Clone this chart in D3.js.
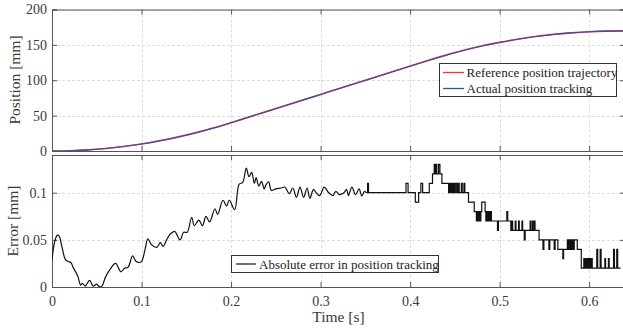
<!DOCTYPE html>
<html>
<head>
<meta charset="utf-8">
<script src="https://cdn.jsdelivr.net/npm/d3@7"></script>
<style>
  body { margin: 0; background: #fff; }
  svg { display: block; font-family: "Liberation Serif", "Times New Roman", serif; }
  svg text { font-family: "Liberation Serif", "Times New Roman", serif; }
</style>
</head>
<body>
<svg id="chart" width="623" height="328"></svg>
<script>
// position trajectory (mm), sampled every 0.02 s
const posTime = [0, 0.02, 0.04, 0.06, 0.08, 0.10, 0.12, 0.14, 0.16, 0.18, 0.20, 0.22, 0.24, 0.26, 0.28, 0.30,
  0.32, 0.34, 0.36, 0.38, 0.40, 0.42, 0.44, 0.46, 0.48, 0.50, 0.52, 0.54, 0.56, 0.58, 0.60, 0.62, 0.64];
const refPosition = [0, 0.4, 1.6, 3.6, 6.4, 10, 14.4, 19.6, 25.6, 32.4, 40, 48, 56, 64, 72, 80,
  88, 96, 104, 112, 120, 128, 135.5, 142.5, 148.5, 153.5, 158, 161.8, 164.8, 167, 168.6, 169.5, 169.8];
const actPosition = [0, 0.37, 1.58, 3.57, 6.37, 9.96, 14.36, 19.55, 25.54, 32.33, 39.91, 47.89, 55.9, 63.9, 71.9, 79.9,
  87.9, 95.9, 103.9, 111.9, 119.9, 127.88, 135.38, 142.41, 148.42, 153.44, 157.93, 161.74, 164.75, 166.96, 168.58, 169.48, 169.78];

// absolute error (mm): smooth part
const smoothTime = [0, 0.003, 0.006, 0.008, 0.011, 0.015, 0.018, 0.021, 0.024, 0.027, 0.029, 0.032, 0.034, 0.037,
  0.042, 0.046, 0.050, 0.052, 0.055, 0.060, 0.065, 0.071, 0.077, 0.081, 0.085, 0.090, 0.094, 0.097, 0.100,
  0.104, 0.107, 0.111, 0.117, 0.121, 0.124, 0.128, 0.132, 0.137, 0.143, 0.147, 0.151, 0.156, 0.159, 0.164,
  0.168, 0.172, 0.176, 0.182, 0.185, 0.191, 0.195, 0.198, 0.204, 0.209, 0.213, 0.217, 0.220, 0.223, 0.226,
  0.228, 0.231, 0.234, 0.237, 0.239, 0.242, 0.245, 0.250, 0.256, 0.260, 0.265, 0.269, 0.273, 0.277, 0.281,
  0.285, 0.288, 0.292, 0.295, 0.299, 0.304, 0.309, 0.314, 0.317, 0.321, 0.326, 0.329, 0.331, 0.335, 0.339,
  0.343, 0.346, 0.349, 0.351];
const smoothError = [0.029, 0.048, 0.055, 0.054, 0.043, 0.029, 0.027, 0.026, 0.020, 0.015, 0.011, 0.002, 0.004, 0.001,
  0.007, 0.001, 0.003, 0.001, 0.000, 0.011, 0.019, 0.025, 0.016, 0.020, 0.021, 0.033, 0.027, 0.026, 0.027,
  0.040, 0.051, 0.045, 0.042, 0.047, 0.043, 0.050, 0.056, 0.059, 0.050, 0.058, 0.058, 0.074, 0.065, 0.071,
  0.065, 0.075, 0.069, 0.083, 0.077, 0.092, 0.086, 0.092, 0.082, 0.109, 0.111, 0.126, 0.117, 0.1215, 0.110,
  0.116, 0.107, 0.112, 0.104, 0.1085, 0.1115, 0.1025, 0.104, 0.105, 0.106, 0.099, 0.105, 0.095, 0.106, 0.095,
  0.105, 0.094, 0.1035, 0.100, 0.097, 0.106, 0.100, 0.097, 0.1015, 0.098, 0.100, 0.1035, 0.097, 0.106, 0.098,
  0.104, 0.0965, 0.1015, 0.100];

// absolute error (mm): quantized part, each value holds until the next time
const stepTime = [0.351, 0.3525, 0.3535, 0.3954, 0.3977, 0.4058, 0.4095, 0.412, 0.414, 0.4214, 0.425, 0.4269,
  0.4282, 0.4289, 0.4298, 0.4318, 0.4333, 0.4355, 0.443, 0.4437, 0.4445, 0.4452, 0.446, 0.4468, 0.448, 0.4488,
  0.4498, 0.4505, 0.452, 0.4528, 0.4538, 0.4543, 0.4548, 0.4572, 0.4582, 0.4601, 0.4611, 0.4652, 0.4716, 0.474,
  0.4748, 0.4755, 0.4763, 0.477, 0.4778, 0.4785, 0.479, 0.48, 0.4838, 0.4846, 0.4853, 0.486, 0.4868, 0.4876,
  0.4884, 0.4892, 0.49, 0.4908, 0.4976, 0.4986, 0.508, 0.509, 0.5125, 0.5137, 0.5145, 0.5174, 0.5182, 0.5211,
  0.5219, 0.5249, 0.5257, 0.5275, 0.5285, 0.534, 0.5348, 0.5365, 0.5373, 0.5387, 0.5395, 0.544, 0.5484, 0.5494,
  0.555, 0.556, 0.5609, 0.5619, 0.565, 0.5706, 0.5714, 0.5756, 0.5765, 0.5773, 0.5785, 0.5793, 0.5805, 0.5813,
  0.5825, 0.5833, 0.5867, 0.5912, 0.594, 0.5948, 0.5956, 0.5964, 0.5972, 0.598, 0.599, 0.5998, 0.6008, 0.6016,
  0.6026, 0.6034, 0.6085, 0.6095, 0.6123, 0.6133, 0.6175, 0.6183, 0.6215, 0.6223, 0.6272, 0.6282, 0.6308,
  0.6318, 0.635];
const stepError = [0.10, 0.11, 0.10, 0.11, 0.10, 0.09, 0.10, 0.11, 0.10, 0.11, 0.12, 0.13,
  0.12, 0.13, 0.12, 0.13, 0.12, 0.11, 0.10, 0.11, 0.10, 0.11, 0.10, 0.11, 0.10, 0.11,
  0.10, 0.11, 0.10, 0.11, 0.10, 0.11, 0.10, 0.11, 0.10, 0.11, 0.10, 0.09, 0.08, 0.07,
  0.08, 0.07, 0.08, 0.07, 0.08, 0.07, 0.08, 0.09, 0.08, 0.07, 0.08, 0.07, 0.08, 0.07,
  0.08, 0.07, 0.08, 0.07, 0.06, 0.07, 0.08, 0.07, 0.06, 0.07, 0.06, 0.07, 0.06, 0.07,
  0.06, 0.07, 0.06, 0.05, 0.06, 0.07, 0.06, 0.07, 0.06, 0.07, 0.06, 0.05, 0.04, 0.05,
  0.04, 0.05, 0.04, 0.05, 0.04, 0.03, 0.04, 0.05, 0.04, 0.05, 0.04, 0.05, 0.04, 0.05,
  0.04, 0.05, 0.04, 0.02, 0.03, 0.02, 0.03, 0.02, 0.03, 0.02, 0.03, 0.02, 0.03, 0.02,
  0.03, 0.02, 0.04, 0.02, 0.04, 0.02, 0.03, 0.02, 0.03, 0.02, 0.04, 0.02, 0.04,
  0.02, 0.02];

const xTicks = [0, 0.1, 0.2, 0.3, 0.4, 0.5, 0.6];
const posTicks = [0, 50, 100, 150, 200];
const errTicks = [0, 0.05, 0.1];

const svg = d3.select("#chart");
const left = 52, right = 625;
const axColor = "#555", txtColor = "#3a3a3a";

const x = d3.scaleLinear().domain([0, 0.64]).range([left, right]);
const yPos = d3.scaleLinear().domain([0, 200]).range([151, 9.5]);
const yErr = d3.scaleLinear().domain([0, 0.14]).range([287, 155]);

function drawAxes(y, yTicks, fmt, showX, id) {
  let g = svg.append("g");
  let [y0, y1] = y.range();

  // grid
  g.selectAll(".gx").data(xTicks.slice(1)).enter().append("line")
    .attr("x1", d => Math.round(x(d)) + 0.5).attr("x2", d => Math.round(x(d)) + 0.5)
    .attr("y1", y1).attr("y2", y0)
    .attr("stroke", "#dcdcdc").attr("stroke-dasharray", "3,2");
  g.selectAll(".gy").data(yTicks.slice(1)).enter().append("line")
    .attr("x1", left).attr("x2", right)
    .attr("y1", d => Math.round(y(d)) + 0.5).attr("y2", d => Math.round(y(d)) + 0.5)
    .attr("stroke", "#dcdcdc").attr("stroke-dasharray", "3,2");

  svg.append("clipPath").attr("id", id).append("rect")
    .attr("x", left).attr("y", y1).attr("width", right - left).attr("height", y0 - y1);

  // axes with inward ticks on all four sides
  svg.append("g").attr("transform", `translate(0,${y0})`)
    .call(d3.axisBottom(x).tickValues(xTicks).tickSize(-5).tickPadding(9)
      .tickFormat(showX ? d3.format("") : ""));
  svg.append("g").attr("transform", `translate(0,${y1})`)
    .call(d3.axisTop(x).tickValues(xTicks).tickSize(-5).tickFormat(""));
  svg.append("g").attr("transform", `translate(${left},0)`)
    .call(d3.axisLeft(y).tickValues(yTicks).tickSize(-5).tickPadding(5).tickFormat(fmt));
  svg.append("g").attr("transform", `translate(${right},0)`)
    .call(d3.axisRight(y).tickValues(yTicks).tickSize(-5).tickFormat(""));
}

drawAxes(yPos, posTicks, d3.format(""), false, "clipTop");
drawAxes(yErr, errTicks, d => d === 0 ? "0" : String(d), true, "clipBot");

svg.selectAll(".domain").attr("stroke", axColor);
svg.selectAll(".tick line").attr("stroke", axColor);
svg.selectAll(".tick text").attr("fill", txtColor).attr("font-size", "14px")
  .attr("font-family", "Liberation Serif");

// position lines
let posLine = (vals) => d3.line().x((d, i) => x(posTime[i])).y(d => yPos(d)).curve(d3.curveMonotoneX)(vals);
svg.append("path").attr("d", posLine(refPosition)).attr("clip-path", "url(#clipTop)")
  .attr("fill", "none").attr("stroke", "#ff3030").attr("stroke-width", 1.6);
svg.append("path").attr("d", posLine(actPosition)).attr("clip-path", "url(#clipTop)")
  .attr("fill", "none").attr("stroke", "#3050b0").attr("stroke-width", 1.1);

// error lines
svg.append("path")
  .attr("d", d3.line().x((d, i) => x(smoothTime[i])).y(d => yErr(d)).curve(d3.curveCatmullRom.alpha(0.5))(smoothError))
  .attr("clip-path", "url(#clipBot)")
  .attr("fill", "none").attr("stroke", "#111").attr("stroke-width", 1.2);
svg.append("path")
  .attr("d", d3.line().x((d, i) => x(stepTime[i])).y(d => yErr(d)).curve(d3.curveStepAfter)(stepError))
  .attr("clip-path", "url(#clipBot)")
  .attr("fill", "none").attr("stroke", "#111").attr("stroke-width", 1.2);

// axis labels
svg.append("text").attr("transform", "translate(20,80) rotate(-90)")
  .attr("text-anchor", "middle").attr("font-size", "15.5px").attr("fill", txtColor).text("Position [mm]");
svg.append("text").attr("transform", "translate(17.5,221) rotate(-90)")
  .attr("text-anchor", "middle").attr("font-size", "15.5px").attr("fill", txtColor).text("Error [mm]");
svg.append("text").attr("x", (left + right) / 2).attr("y", 322)
  .attr("text-anchor", "middle").attr("font-size", "15.5px").attr("fill", txtColor).text("Time [s]");

// legends
let lg1 = svg.append("g");
lg1.append("rect").attr("x", 439.5).attr("y", 63.5).attr("width", 177).attr("height", 33)
  .attr("fill", "#fff").attr("stroke", "#333");
[["Reference position trajectory", "#ff3030", 72.5], ["Actual position tracking", "#3050b0", 88.5]].forEach(r => {
  lg1.append("line").attr("x1", 443).attr("x2", 464).attr("y1", r[2]).attr("y2", r[2])
    .attr("stroke", r[1]).attr("stroke-width", 1.3);
  lg1.append("text").attr("x", 466.5).attr("y", r[2] + 4.5).attr("font-size", "13px")
    .attr("fill", "#222").text(r[0]);
});

let lg2 = svg.append("g");
lg2.append("rect").attr("x", 231.5).attr("y", 255.5).attr("width", 207).attr("height", 17)
  .attr("fill", "#fff").attr("stroke", "#333");
lg2.append("line").attr("x1", 236).attr("x2", 256).attr("y1", 264).attr("y2", 264)
  .attr("stroke", "#111").attr("stroke-width", 1.2);
lg2.append("text").attr("x", 259).attr("y", 268.5).attr("font-size", "13px")
  .attr("fill", "#222").text("Absolute error in position tracking");
</script>
</body>
</html>
